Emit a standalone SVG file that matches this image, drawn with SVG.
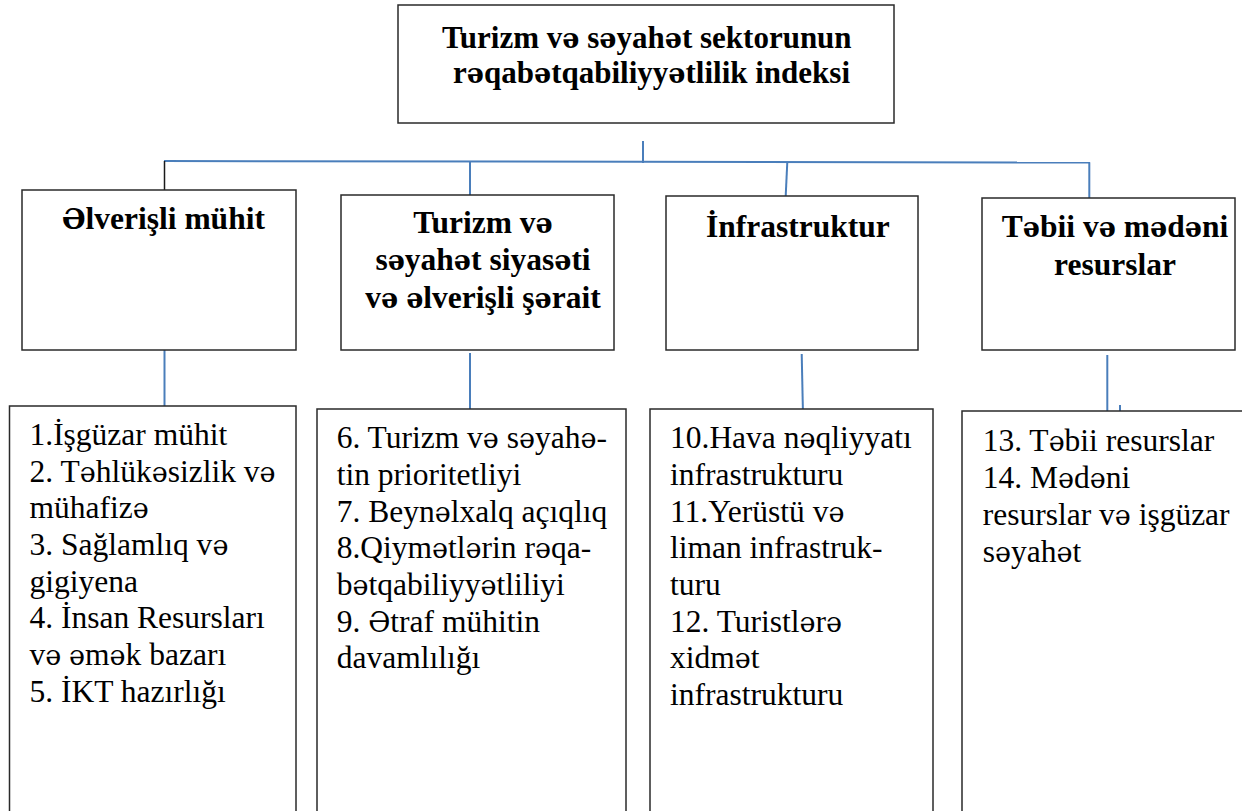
<svg xmlns="http://www.w3.org/2000/svg" width="1242" height="811" viewBox="0 0 1242 811">
<style>
.box{fill:#fff;stroke:#2a2a2a;stroke-width:1.5}
.b{font-family:"Liberation Serif","Times New Roman",serif;font-weight:bold;font-size:31.5px;fill:#000}
.t{font-size:31px}
.r{font-family:"Liberation Serif","Times New Roman",serif;font-size:31.5px;fill:#000}
.e{font-family:"DejaVu Serif",serif;font-size:27px}
.c{fill:none;stroke:#4a7ebb;stroke-width:2}
.k{fill:none;stroke:#1a1a1a;stroke-width:1.5}
</style>
<rect width="1242" height="811" fill="#fff"/>
<g id="connectors">
<line class="c" x1="643" y1="141" x2="643" y2="163"/>
<line class="c" x1="164" y1="161" x2="1090" y2="162.5"/>
<line class="k" x1="164.5" y1="161" x2="164.5" y2="190"/>
<line class="c" x1="470" y1="161.5" x2="470" y2="195"/>
<line class="c" x1="787.3" y1="162" x2="785.7" y2="196"/>
<line class="c" x1="1089.3" y1="162.3" x2="1089.3" y2="198"/>
<line class="c" x1="164.5" y1="350" x2="164.5" y2="408"/>
<line class="c" x1="470" y1="353" x2="470" y2="411"/>
<line class="c" x1="801.7" y1="354" x2="803" y2="415"/>
<line class="c" x1="1107.3" y1="355" x2="1107.3" y2="416"/>
<line class="c" x1="1120" y1="405" x2="1120" y2="412"/>
</g>
<g id="root">
<rect class="box" x="398" y="5" width="496" height="118"/>
<text class="b t" x="442" y="48">Turizm v<tspan class="e">ə</tspan> s<tspan class="e">ə</tspan>yah<tspan class="e">ə</tspan>t sektorunun</text>
<text class="b t" x="453" y="83">r<tspan class="e">ə</tspan>qab<tspan class="e">ə</tspan>tqabiliyy<tspan class="e">ə</tspan>tlilik indeksi</text>
</g>
<g id="n1">
<rect class="box" x="22" y="190" width="274" height="160"/>
<text class="b" x="62" y="229"><tspan class="e">Ə</tspan>lverişli mühit</text>
</g>
<g id="n2">
<rect class="box" x="341" y="195" width="273" height="155"/>
<text class="b" x="483" y="233" text-anchor="middle">Turizm v<tspan class="e">ə</tspan></text>
<text class="b" x="483" y="270" text-anchor="middle">s<tspan class="e">ə</tspan>yah<tspan class="e">ə</tspan>t siyas<tspan class="e">ə</tspan>ti</text>
<text class="b" x="483" y="308" text-anchor="middle">v<tspan class="e">ə</tspan> <tspan class="e">ə</tspan>lverişli ş<tspan class="e">ə</tspan>rait</text>
</g>
<g id="n3">
<rect class="box" x="666" y="196" width="252" height="154"/>
<text class="b" x="706" y="237">İnfrastruktur</text>
</g>
<g id="n4">
<rect class="box" x="982" y="198" width="253" height="152"/>
<text class="b" x="1115" y="237" text-anchor="middle">T<tspan class="e">ə</tspan>bii v<tspan class="e">ə</tspan> m<tspan class="e">ə</tspan>d<tspan class="e">ə</tspan>ni</text>
<text class="b" x="1115" y="275" text-anchor="middle">resurslar</text>
</g>
<g id="l1">
<rect class="box" x="9.5" y="406" width="286.5" height="420"/>
<text class="r" x="29.5" y="445">1.İşgüzar mühit</text>
<text class="r" x="29.5" y="481.7">2. T<tspan class="e">ə</tspan>hlük<tspan class="e">ə</tspan>sizlik v<tspan class="e">ə</tspan></text>
<text class="r" x="29.5" y="518.3">mühafiz<tspan class="e">ə</tspan></text>
<text class="r" x="29.5" y="555">3. Sağlamlıq v<tspan class="e">ə</tspan></text>
<text class="r" x="29.5" y="591.7">gigiyena</text>
<text class="r" x="29.5" y="628.3">4. İnsan Resursları</text>
<text class="r" x="29.5" y="665">v<tspan class="e">ə</tspan> <tspan class="e">ə</tspan>m<tspan class="e">ə</tspan>k bazarı</text>
<text class="r" x="29.5" y="701.7">5. İKT hazırlığı</text>
</g>
<g id="l2">
<rect class="box" x="317" y="409" width="309" height="420"/>
<text class="r" x="336.7" y="448.3">6. Turizm v<tspan class="e">ə</tspan> s<tspan class="e">ə</tspan>yah<tspan class="e">ə</tspan>-</text>
<text class="r" x="336.7" y="485">tin prioritetliyi</text>
<text class="r" x="336.7" y="521.7">7. Beyn<tspan class="e">ə</tspan>lxalq açıqlıq</text>
<text class="r" x="336.7" y="558.3">8.Qiym<tspan class="e">ə</tspan>tl<tspan class="e">ə</tspan>rin r<tspan class="e">ə</tspan>qa-</text>
<text class="r" x="336.7" y="595">b<tspan class="e">ə</tspan>tqabiliyy<tspan class="e">ə</tspan>tliliyi</text>
<text class="r" x="336.7" y="631.7">9. <tspan class="e">Ə</tspan>traf mühitin</text>
<text class="r" x="336.7" y="668.3">davamlılığı</text>
</g>
<g id="l3">
<rect class="box" x="650" y="409" width="283" height="420"/>
<text class="r" x="670" y="448.3">10.Hava n<tspan class="e">ə</tspan>qliyyatı</text>
<text class="r" x="670" y="485">infrastrukturu</text>
<text class="r" x="670" y="521.7">11.Yerüstü v<tspan class="e">ə</tspan></text>
<text class="r" x="670" y="558.3">liman infrastruk-</text>
<text class="r" x="670" y="595">turu</text>
<text class="r" x="670" y="631.7">12. Turistl<tspan class="e">ə</tspan>r<tspan class="e">ə</tspan></text>
<text class="r" x="670" y="668.3">xidm<tspan class="e">ə</tspan>t</text>
<text class="r" x="670" y="705">infrastrukturu</text>
</g>
<g id="l4">
<rect class="box" x="962" y="411" width="300" height="420"/>
<text class="r" x="982.7" y="450.7">13. T<tspan class="e">ə</tspan>bii resurslar</text>
<text class="r" x="982.7" y="488">14. M<tspan class="e">ə</tspan>d<tspan class="e">ə</tspan>ni</text>
<text class="r" x="982.7" y="525">resurslar v<tspan class="e">ə</tspan> işgüzar</text>
<text class="r" x="982.7" y="561.7">s<tspan class="e">ə</tspan>yah<tspan class="e">ə</tspan>t</text>
</g>
</svg>
